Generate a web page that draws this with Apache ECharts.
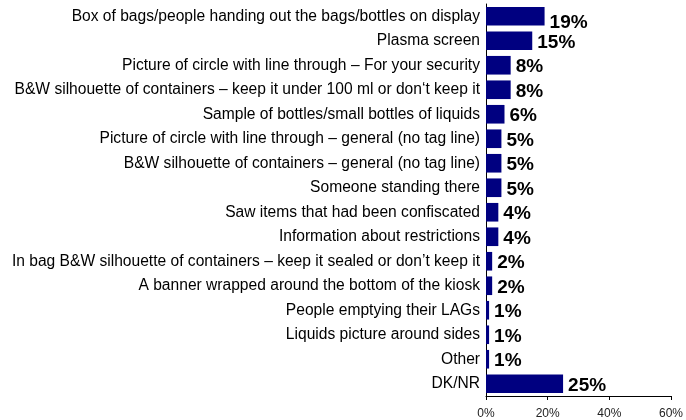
<!DOCTYPE html>
<html>
<head>
<meta charset="utf-8">
<script src="https://cdn.jsdelivr.net/npm/echarts@6/dist/echarts.min.js"></script>
<style>
  html, body { margin: 0; padding: 0; background: #fff; }
  #chart { width: 686px; height: 420px; }
</style>
</head>
<body>
<div id="chart"></div>
<script>
// Where respondents noticed the liquids/gels messaging (% of respondents)
const categories = [
  'Box of bags/people handing out the bags/bottles on display',
  'Plasma screen',
  'Picture of circle with line through \u2013 For your security',
  'B&W silhouette of containers \u2013 keep it under 100 ml or don\u2018t keep it',
  'Sample of bottles/small bottles of liquids',
  'Picture of circle with line through \u2013 general (no tag line)',
  'B&W silhouette of containers \u2013 general (no tag line)',
  'Someone standing there',
  'Saw items that had been confiscated',
  'Information about restrictions',
  'In bag B&W silhouette of containers \u2013 keep it sealed or don\u2019t keep it',
  'A banner wrapped around the bottom of the kiosk',
  'People emptying their LAGs',
  'Liquids picture around sides',
  'Other',
  'DK/NR'
];
const values = [19, 15, 8, 8, 6, 5, 5, 5, 4, 4, 2, 2, 1, 1, 1, 25];
const axisMin = 0;
const axisMax = 60;
const axisStep = 20;

const font = '"Liberation Sans", Arial, sans-serif';

const chart = echarts.init(document.getElementById('chart'), null, { renderer: 'canvas' });

const barData = values.map((v, i) => {
  const item = { value: v };
  if (i === 0) item.label = { offset: [0, 7] };
  return item;
});

chart.setOption({
  animation: false,
  backgroundColor: '#fff',
  grid: { left: 486, right: 9, top: 4, bottom: 23, containLabel: false },
  xAxis: {
    type: 'value',
    min: axisMin,
    max: axisMax,
    interval: axisStep,
    axisLine: { show: true, lineStyle: { color: '#000', width: 1 } },
    axisTick: { show: true, length: 4, lineStyle: { color: '#000' } },
    splitLine: { show: false },
    axisLabel: {
      formatter: '{value}%',
      fontFamily: font,
      fontSize: 12,
      color: '#222',
      margin: 12,
      hideOverlap: false
    }
  },
  yAxis: {
    type: 'category',
    inverse: true,
    data: categories,
    axisLine: { show: true, lineStyle: { color: '#000', width: 1 } },
    axisTick: { show: false },
    axisLabel: {
      fontFamily: font,
      fontSize: 15.6,
      color: '#000',
      margin: 6
    }
  },
  series: [{
    type: 'bar',
    data: barData,
    barCategoryGap: '24%',
    itemStyle: { color: '#000080' },
    label: {
      show: true,
      position: 'right',
      distance: 5,
      offset: [0, 2],
      formatter: '{c}%',
      fontFamily: font,
      fontWeight: 'bold',
      fontSize: 19,
      color: '#000'
    }
  }]
});
</script>
</body>
</html>
